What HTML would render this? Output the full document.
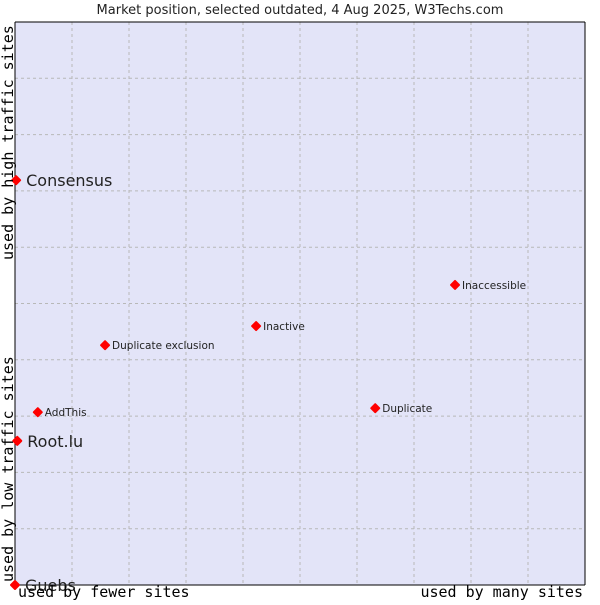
<!DOCTYPE html>
<html><head><meta charset="utf-8"><style>
body{margin:0;background:#fff;width:600px;height:600px;overflow:hidden}
svg text{font-family:"DejaVu Sans","Liberation Sans",sans-serif}
.mono{font-family:"DejaVu Sans Mono","Liberation Mono",monospace}
</style></head><body>
<svg width="600" height="600">
<text x="300" y="14" text-anchor="middle" font-size="13" fill="#222">Market position, selected outdated, 4 Aug 2025, W3Techs.com</text>
<rect x="15" y="22" width="570" height="563" fill="#e3e4f8"/>
<g id="grid"></g>
<line x1="15" y1="22" x2="585" y2="22" stroke="#000"/>
<line x1="15" y1="22" x2="15" y2="585" stroke="#000"/>
<line x1="15" y1="585" x2="585" y2="585" stroke="#000"/>
<line x1="585" y1="22" x2="585" y2="585" stroke="#000"/>
<g id="pts"></g>
<text class="mono" x="18" y="597" font-size="15" fill="#000">used by fewer sites</text>
<text class="mono" x="583" y="597" text-anchor="end" font-size="15" fill="#000">used by many sites</text>
<text class="mono" transform="translate(13,582) rotate(-90)" font-size="15" fill="#000">used by low traffic sites</text>
<text class="mono" transform="translate(13,260) rotate(-90)" font-size="15" fill="#000">used by high traffic sites</text>
</svg>
<script>
const names=["Consensus","Root.lu","Guebs","AddThis","Duplicate exclusion","Inactive","Inaccessible","Duplicate"];
const xVals=[0.2,0.4,0,4.0,15.8,42.3,77.2,63.2];
const yVals=[71.9,25.6,0,30.7,42.6,46.0,53.3,31.4];
const big=[true,true,true,false,false,false,false,false];
const L=15,R=585,T=22,B=585;
const sx=v=>L+v/100*(R-L), sy=v=>B-v/100*(B-T);
const ns="http://www.w3.org/2000/svg";
const g=document.getElementById('grid');
for(let i=1;i<10;i++){
 const a=document.createElementNS(ns,'line');
 
 
 a.setAttribute('x1',sx(i*10));a.setAttribute('x2',sx(i*10));a.setAttribute('y1',T);a.setAttribute('y2',B);
 a.setAttribute('stroke','#b8b8b8');a.setAttribute('stroke-dasharray','3,3');g.appendChild(a);
 const b=document.createElementNS(ns,'line');
 
 
 b.setAttribute('y1',sy(i*10));b.setAttribute('y2',sy(i*10));b.setAttribute('x1',L);b.setAttribute('x2',R);
 b.setAttribute('stroke','#b8b8b8');b.setAttribute('stroke-dasharray','3,3');g.appendChild(b);
}
const p=document.getElementById('pts');
names.forEach((n,i)=>{
 const x=sx(xVals[i]),y=sy(yVals[i]);
 const m=document.createElementNS(ns,'path');
 
 
 m.setAttribute('d',`M${x-4} ${y}L${x} ${y-4}L${x+4} ${y}L${x} ${y+4}Z`);
 m.setAttribute('fill','#f00');m.setAttribute('stroke','#f00');m.setAttribute('stroke-width','2');m.setAttribute('stroke-linejoin','round');
 p.appendChild(m);
 const t=document.createElementNS(ns,'text');
 
 
 t.setAttribute('x',x+(big[i]?10:7));t.setAttribute('y',y+(big[i]?6:4));
 t.setAttribute('font-size',big[i]?16:10.5);t.setAttribute('fill','#222');
 t.textContent=n;p.appendChild(t);
});
</script>
</body></html>
